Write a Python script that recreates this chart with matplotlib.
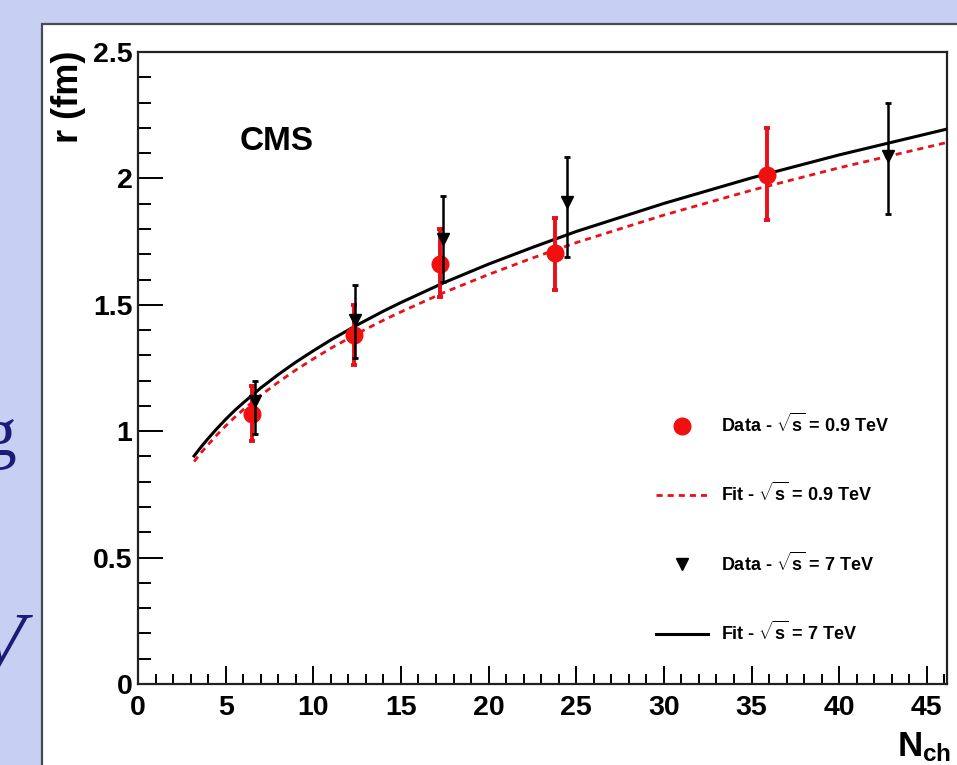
import matplotlib
matplotlib.use("Agg")
import matplotlib.pyplot as plt
from matplotlib.patches import Rectangle
from matplotlib.ticker import MultipleLocator

# data points, sqrt(s) = 0.9 TeV
n09 = [6.5, 12.3, 17.2, 23.8, 35.9]
r09 = [1.07, 1.38, 1.66, 1.705, 2.015]
r09_lo = [0.11, 0.12, 0.13, 0.145, 0.18]
r09_hi = [0.11, 0.12, 0.14, 0.14, 0.185]

# data points, sqrt(s) = 7 TeV
n7 = [6.7, 12.4, 17.4, 24.5, 42.8]
r7 = [1.12, 1.44, 1.76, 1.905, 2.09]
r7_lo = [0.13, 0.15, 0.17, 0.215, 0.23]
r7_hi = [0.08, 0.14, 0.17, 0.18, 0.21]

# fit curves
fit_n = [3.2, 3.6, 4, 4.5, 5, 5.5, 6, 7, 8, 9, 10, 11, 12.5, 14, 15, 17.5,
         20, 22.5, 25, 30, 35, 40, 46.2]
fit09 = [0.880, 0.915, 0.947, 0.985, 1.021, 1.054, 1.085, 1.142, 1.194,
         1.242, 1.286, 1.328, 1.386, 1.439, 1.472, 1.550, 1.620, 1.685,
         1.746, 1.855, 1.953, 2.042, 2.143]
fit7 = [0.902, 0.938, 0.971, 1.010, 1.047, 1.081, 1.112, 1.171, 1.224,
        1.273, 1.318, 1.361, 1.420, 1.475, 1.509, 1.589, 1.661, 1.727,
        1.790, 1.901, 2.002, 2.093, 2.196]

xticks = [0, 5, 10, 15, 20, 25, 30, 35, 40, 45]
yticks = [0, 0.5, 1, 1.5, 2, 2.5]
ytick_labels = ['0', '0.5', '1', '1.5', '2', '2.5']

plt.rcParams['font.family'] = ['Liberation Sans', 'DejaVu Sans']
plt.rcParams['font.weight'] = 'bold'
plt.rcParams['mathtext.fontset'] = 'custom'
plt.rcParams['mathtext.rm'] = 'Liberation Sans:bold'
plt.rcParams['mathtext.bf'] = 'Liberation Sans:bold'
plt.rcParams['mathtext.it'] = 'Liberation Sans:bold'

W, H = 957, 765
fig = plt.figure(figsize=(W / 100, H / 100), dpi=100)
fig.patch.set_facecolor('#c7cff2')

# white slide panel behind the plot
panel = Rectangle((42 / W, -0.05), 1.0, (H - 24) / H + 0.05, transform=fig.transFigure,
                  facecolor='white', edgecolor='#4a4a55', linewidth=1.6, zorder=-5)
fig.patches.append(panel)

# letters of the slide text, cut off at the left edge as in the original
fig.text(17 / W, (H - 455) / H, 'g', fontsize=50, family='Liberation Serif',
         weight='normal', color='#1c1c78', ha='right', va='baseline')
fig.text(25 / W, (H - 668) / H, 'V', fontsize=58, family='Liberation Serif',
         style='italic', weight='normal', color='#1c1c78', ha='right', va='baseline')

ax = fig.add_axes([138 / W, (H - 684) / H, (947 - 138) / W, (684 - 52) / H])
ax.set_facecolor('white')

ax.plot(fit_n, fit09, color='#e8101a', linewidth=2.0, linestyle=(0, (2.2, 1.8)),
        label=r'Fit - $\sqrt{s}$ = 0.9 TeV', zorder=2)
ax.plot(fit_n, fit7, color='black', linewidth=2.2, label=r'Fit - $\sqrt{s}$ = 7 TeV', zorder=3)

ax.errorbar(n09, r09, yerr=[r09_lo, r09_hi], fmt='none', ecolor='#e8101a',
            elinewidth=2.8, capsize=2.5, capthick=2.8, zorder=4)
ax.plot(n09, r09, 'o', color='#f01010', markersize=12, linestyle='none',
        label=r'Data - $\sqrt{s}$ = 0.9 TeV', zorder=5)
ax.errorbar(n7, r7, yerr=[r7_lo, r7_hi], fmt='none', ecolor='black',
            elinewidth=1.8, capsize=2.5, capthick=2.0, zorder=6)
ax.plot(n7, r7, 'v', color='black', markersize=9, linestyle='none',
        label=r'Data - $\sqrt{s}$ = 7 TeV', zorder=7)

ax.set_xlim(0, 46.15)
ax.set_ylim(0, 2.5)
ax.set_xticks(xticks)
ax.set_yticks(yticks)
ax.set_yticklabels(ytick_labels)
ax.xaxis.set_minor_locator(MultipleLocator(1))
ax.yaxis.set_minor_locator(MultipleLocator(0.1))
ax.tick_params(which='both', direction='in', top=False, right=False, width=1.4,
               labelsize=20.5)
ax.tick_params(axis='x', which='major', length=13, pad=8)
ax.tick_params(axis='x', which='minor', length=7)
ax.tick_params(axis='y', which='major', length=18, pad=4)
ax.tick_params(axis='y', which='minor', length=9)
for sp in ax.spines.values():
    sp.set_linewidth(1.6)
    sp.set_color('#222222')

fig.text(69 / W, (H - 51) / H, 'r (fm)', rotation=90, fontsize=26,
         ha='center', va='top')
fig.text(951 / W, 1 / H, r'N$_{\mathrm{ch}}$', fontsize=25, ha='right', va='bottom')
fig.text(240 / W, (H - 150) / H, 'CMS', fontsize=24, ha='left', va='baseline')

h, l = ax.get_legend_handles_labels()
order = [2, 0, 3, 1]
leg = ax.legend([h[i] for i in order], [l[i] for i in order],
                loc='upper left', bbox_to_anchor=(647 / W, (H - 404) / H),
                bbox_transform=fig.transFigure, frameon=False, fontsize=13,
                handlelength=2.9, handletextpad=0.7, labelspacing=2.55,
                borderpad=0, numpoints=1)

fig.savefig('out.png', dpi=100, facecolor=fig.get_facecolor())
